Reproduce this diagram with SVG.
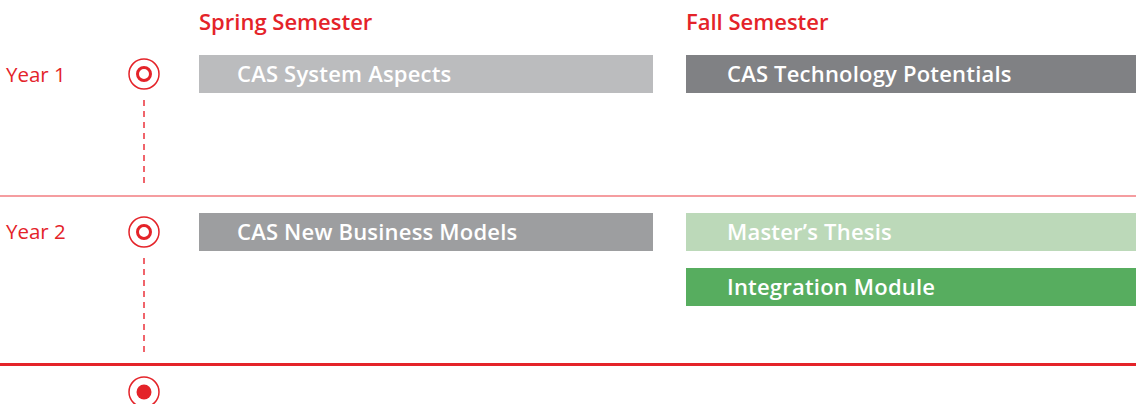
<svg xmlns="http://www.w3.org/2000/svg" width="1136" height="404" viewBox="0 0 1136 404">
<style>
.hdr{font-family:"Open Sans",Lato,sans-serif;font-weight:600;font-size:22px;fill:#e42329}
.yr{font-family:"Open Sans",Lato,sans-serif;font-size:20.5px;fill:#e42329}
.lbl{font-family:"Open Sans",Lato,sans-serif;font-weight:600;font-size:22px;letter-spacing:0.2px;fill:#ffffff}
.outer{fill:none;stroke:#e42329;stroke-width:1.5}
.inner{fill:none;stroke:#e42329;stroke-width:3}
.dash{stroke:#f0646b;stroke-width:2;stroke-dasharray:6 5}
</style>
<rect width="1136" height="404" fill="#ffffff"/>
<text class="hdr" x="199" y="30">Spring Semester</text>
<text class="hdr" x="686" y="30">Fall Semester</text>
<g id="connectors">
<line class="dash" x1="144" y1="100" x2="144" y2="184"/>
<line class="dash" x1="144" y1="258" x2="144" y2="352"/>
<line x1="0" y1="196" x2="1136" y2="196" stroke="#f27c80" stroke-width="1.5"/>
<line x1="0" y1="364.5" x2="1136" y2="364.5" stroke="#e42329" stroke-width="3"/>
</g>
<g id="year1">
<text class="yr" x="6" y="82">Year 1</text>
<circle class="outer" cx="144" cy="74" r="15"/>
<circle class="inner" cx="144" cy="74" r="6.5"/>
</g>
<g id="year2">
<text class="yr" x="6" y="239">Year 2</text>
<circle class="outer" cx="144" cy="232" r="15"/>
<circle class="inner" cx="144" cy="232" r="6.5"/>
</g>
<g id="end">
<circle class="outer" cx="144" cy="392" r="15"/>
<circle cx="144" cy="392" r="7.5" fill="#e42329"/>
</g>
<g id="cas-system-aspects">
<rect x="199" y="55" width="454" height="38" fill="#bbbcbe"/>
<text class="lbl" x="237" y="81.5">CAS System Aspects</text>
</g>
<g id="cas-technology-potentials">
<rect x="686" y="55" width="450" height="38" fill="#808184"/>
<text class="lbl" x="727" y="81.5">CAS Technology Potentials</text>
</g>
<g id="cas-new-business-models">
<rect x="199" y="213" width="454" height="38" fill="#9d9ea0"/>
<text class="lbl" x="237" y="239.5">CAS New Business Models</text>
</g>
<g id="masters-thesis">
<rect x="686" y="213" width="450" height="38" fill="#bcd9b9"/>
<text class="lbl" x="727" y="239.5">Master’s Thesis</text>
</g>
<g id="integration-module">
<rect x="686" y="268" width="450" height="38" fill="#57ad5f"/>
<text class="lbl" x="727" y="294.5">Integration Module</text>
</g>
</svg>
